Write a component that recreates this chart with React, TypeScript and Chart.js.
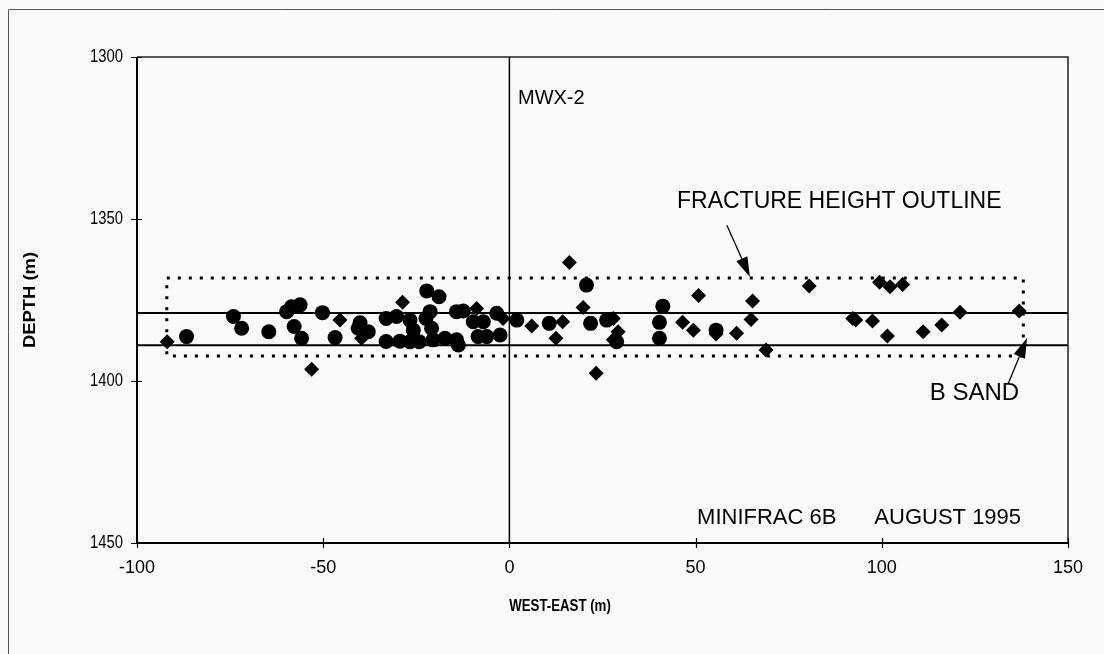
import React, { useEffect, useRef } from "react";
import { Chart, registerables } from "chart.js";

Chart.register(...registerables);

// ---- data ----
const CIRCLE_X = [-86.7, -74.1, -71.9, -64.6, -59.8, -58.5, -56.2, -57.8, -55.8, -50.2, -46.8, -40.1, -40.6, -37.9, -33.1, -30.3, -33.1, -29.4, -26.7, -25.8, -26.7, -24.2, -22.2, -18.9, -21.3, -22.4, -20.9, -20.5, -17.3, -14.2, -12.4, -9.7, -7.0, -14.2, -13.7, -8.4, -6.1, -2.5, -3.4, 2.0, 10.7, 20.7, 21.8, 26.1, 28.8, 41.2, 40.3, 40.3, 55.5];
const CIRCLE_Y = [1386.3, 1380.1, 1383.7, 1384.8, 1378.6, 1377.1, 1376.5, 1383.2, 1386.8, 1378.9, 1386.6, 1382.0, 1383.7, 1384.8, 1380.7, 1380.1, 1387.8, 1387.7, 1381.2, 1384.3, 1387.9, 1387.9, 1372.2, 1374.0, 1378.6, 1380.7, 1383.7, 1387.3, 1386.8, 1378.6, 1378.4, 1381.7, 1381.7, 1387.3, 1388.9, 1386.3, 1386.3, 1385.8, 1379.1, 1381.2, 1382.2, 1370.4, 1382.2, 1381.2, 1387.9, 1376.9, 1381.9, 1386.8, 1384.3];

const DIAMOND_X = [-91.9, -53.1, -45.5, -39.7, -28.7, -8.8, -1.7, 6.0, 14.3, 12.5, 16.1, 19.8, 23.3, 27.9, 29.2, 27.9, 46.5, 49.4, 50.8, 55.5, 61.0, 65.3, 64.9, 68.9, 80.5, 92.2, 93.0, 97.5, 99.4, 102.2, 105.6, 101.5, 111.1, 116.1, 121.0, 136.9];
const DIAMOND_Y = [1387.9, 1396.4, 1381.2, 1386.8, 1375.7, 1377.6, 1380.7, 1383.0, 1381.7, 1386.8, 1363.4, 1377.3, 1397.6, 1380.7, 1384.8, 1387.3, 1381.9, 1384.3, 1373.6, 1385.5, 1385.3, 1375.3, 1381.0, 1390.4, 1370.7, 1380.7, 1381.2, 1381.5, 1369.5, 1370.9, 1370.2, 1386.1, 1384.8, 1382.7, 1378.8, 1378.4];

// reference lines
const WELL_X = 0;
const SAND_TOP = 1379;
const SAND_BOTTOM = 1389;
const OUTLINE_X = [-92, 138];
const OUTLINE_Y = [1368.2, 1392.3];

// axes
const X_MIN = -100;
const X_MAX = 150;
const Y_MIN = 1300;
const Y_MAX = 1450;
const X_TICKS = [-100, -50, 0, 50, 100, 150];
const Y_TICKS = [1300, 1350, 1400, 1450];
const X_TITLE = "WEST-EAST (m)";
const Y_TITLE = "DEPTH (m)";

// annotations (data coordinates)
const LABEL_TEXTS = ["MWX-2", "FRACTURE HEIGHT OUTLINE", "B SAND", "MINIFRAC 6B", "AUGUST 1995"];
const LABEL_X = [2.3, 45.0, 112.9, 50.4, 98.0];
const LABEL_Y = [1312.7, 1344.5, 1403.7, 1442.3, 1442.3];
const ARROW_FROM_X = [58.4, 133.9];
const ARROW_FROM_Y = [1351.9, 1400.9];
const ARROW_TO_X = [64.6, 139.0];
const ARROW_TO_Y = [1367.9, 1386.7];

// styles
const LABEL_SIZES = [20, 23, 24, 22, 22];
const TEXT_FONT = "'Liberation Sans', Arial, sans-serif";

function drawText(ctx: CanvasRenderingContext2D, text: string, x: number, y: number, font: string, sx: number, align: CanvasTextAlign) {
  ctx.save();
  ctx.font = font;
  ctx.textAlign = align;
  ctx.textBaseline = "middle";
  ctx.translate(x, y);
  ctx.scale(sx, 1);
  ctx.fillText(text, 0, 0);
  ctx.restore();
}

const decorPlugin = {
  id: "decor",
  afterDraw(chart: any) {
    const { ctx, chartArea: a, scales } = chart;
    const xs = scales.x;
    const ys = scales.y;
    ctx.save();

    // outer frame
    ctx.strokeStyle = "#555";
    ctx.lineWidth = 1;
    ctx.beginPath();
    ctx.moveTo(8.5, 654);
    ctx.lineTo(8.5, 9.5);
    ctx.lineTo(1104, 9.5);
    ctx.stroke();

    // plot box
    ctx.strokeStyle = "#222";
    ctx.lineWidth = 1.5;
    ctx.beginPath();
    ctx.moveTo(a.left, a.top);
    ctx.lineTo(a.right, a.top);
    ctx.lineTo(a.right, a.bottom);
    ctx.stroke();

    ctx.strokeStyle = "#000";
    ctx.lineWidth = 2;
    ctx.beginPath();
    ctx.moveTo(a.left, a.top);
    ctx.lineTo(a.left, a.bottom);
    ctx.lineTo(a.right, a.bottom);
    ctx.stroke();

    // tick marks crossing the axes
    ctx.lineWidth = 1.2;
    ctx.beginPath();
    X_TICKS.forEach((v) => {
      const px = Math.round(xs.getPixelForValue(v)) + 0.5;
      ctx.moveTo(px, a.bottom - 5);
      ctx.lineTo(px, a.bottom + 5);
    });
    Y_TICKS.forEach((v) => {
      const py = Math.round(ys.getPixelForValue(v)) + 0.5;
      ctx.moveTo(a.left - 6, py);
      ctx.lineTo(a.left + 5, py);
    });
    ctx.stroke();

    // tick labels (condensed)
    ctx.fillStyle = "#000";
    X_TICKS.forEach((v) => {
      drawText(ctx, String(v), xs.getPixelForValue(v), a.bottom + 25, `19px ${TEXT_FONT}`, 0.95, "center");
    });
    Y_TICKS.forEach((v) => {
      drawText(ctx, String(v), a.left - 14, ys.getPixelForValue(v), `19px ${TEXT_FONT}`, 0.78, "right");
    });

    // annotation texts
    LABEL_TEXTS.forEach((t, i) => {
      drawText(ctx, t, xs.getPixelForValue(LABEL_X[i]), ys.getPixelForValue(LABEL_Y[i]), `${LABEL_SIZES[i]}px ${TEXT_FONT}`, 1, "left");
    });

    // arrows
    ARROW_FROM_X.forEach((_, i) => {
      const x1 = xs.getPixelForValue(ARROW_FROM_X[i]);
      const y1 = ys.getPixelForValue(ARROW_FROM_Y[i]);
      const x2 = xs.getPixelForValue(ARROW_TO_X[i]);
      const y2 = ys.getPixelForValue(ARROW_TO_Y[i]);
      const ang = Math.atan2(y2 - y1, x2 - x1);
      const hl = 20;
      const hw = 6;
      const bx = x2 - hl * Math.cos(ang);
      const by = y2 - hl * Math.sin(ang);
      ctx.strokeStyle = "#000";
      ctx.lineWidth = 1.3;
      ctx.beginPath();
      ctx.moveTo(x1, y1);
      ctx.lineTo(bx, by);
      ctx.stroke();
      ctx.beginPath();
      ctx.moveTo(x2, y2);
      ctx.lineTo(bx + hw * Math.sin(ang), by - hw * Math.cos(ang));
      ctx.lineTo(bx - hw * Math.sin(ang), by + hw * Math.cos(ang));
      ctx.closePath();
      ctx.fill();
    });

    // axis titles
    drawText(ctx, X_TITLE, 560, 606, `bold 17px ${TEXT_FONT}`, 0.78, "center");
    ctx.save();
    ctx.translate(31, 300);
    ctx.rotate(-Math.PI / 2);
    drawText(ctx, Y_TITLE, 0, 0, `bold 16px ${TEXT_FONT}`, 1.15, "center");
    ctx.restore();

    ctx.restore();
  },
};

export default function App() {
  const ref = useRef<HTMLCanvasElement>(null);

  useEffect(() => {
    if (!ref.current) return;
    const line = (pts: { x: number; y: number }[], width: number, dash: number[] = []) => ({
      type: "line" as const,
      data: pts,
      showLine: true,
      borderColor: "#000",
      borderWidth: width,
      borderDash: dash,
      pointRadius: 0,
      fill: false,
      tension: 0,
    });
    const chart = new Chart(ref.current, {
      type: "scatter",
      data: {
        datasets: [
          line([{ x: WELL_X, y: Y_MIN }, { x: WELL_X, y: Y_MAX }], 1.5),
          line([{ x: X_MIN, y: SAND_TOP }, { x: X_MAX, y: SAND_TOP }], 2),
          line([{ x: X_MIN, y: SAND_BOTTOM }, { x: X_MAX, y: SAND_BOTTOM }], 2),
          line(
            [
              { x: OUTLINE_X[0], y: OUTLINE_Y[0] },
              { x: OUTLINE_X[1], y: OUTLINE_Y[0] },
              { x: OUTLINE_X[1], y: OUTLINE_Y[1] },
              { x: OUTLINE_X[0], y: OUTLINE_Y[1] },
              { x: OUTLINE_X[0], y: OUTLINE_Y[0] },
            ],
            3,
            [3, 8]
          ),
          {
            data: CIRCLE_X.map((x, i) => ({ x, y: CIRCLE_Y[i] })),
            pointStyle: "circle",
            pointRadius: 7.5,
            backgroundColor: "#000",
            borderColor: "#000",
            borderWidth: 0,
          },
          {
            data: DIAMOND_X.map((x, i) => ({ x, y: DIAMOND_Y[i] })),
            pointStyle: "rectRot",
            pointRadius: 7.5,
            backgroundColor: "#000",
            borderColor: "#000",
            borderWidth: 0,
          },
        ] as any,
      },
      options: {
        animation: false,
        responsive: false,
        maintainAspectRatio: false,
        layout: { padding: { left: 0, top: 57, right: 36, bottom: 0 } },
        plugins: { legend: { display: false }, tooltip: { enabled: false } },
        scales: {
          x: {
            type: "linear",
            min: X_MIN,
            max: X_MAX,
            grid: { display: false },
            border: { display: false },
            ticks: { display: false },
            afterFit: (s: any) => {
              s.height = 111;
            },
            afterBuildTicks: (s: any) => {
              s.ticks = X_TICKS.map((v) => ({ value: v }));
            },
          },
          y: {
            type: "linear",
            reverse: true,
            min: Y_MIN,
            max: Y_MAX,
            grid: { display: false },
            border: { display: false },
            ticks: { display: false },
            afterFit: (s: any) => {
              s.width = 137;
            },
            afterBuildTicks: (s: any) => {
              s.ticks = Y_TICKS.map((v) => ({ value: v }));
            },
          },
        },
      } as any,
      plugins: [decorPlugin],
    });
    return () => chart.destroy();
  }, []);

  return (
    <div style={{ position: "fixed", left: 0, top: 0, width: 1104, height: 654, background: "#fafafa" }}>
      <canvas ref={ref} width={1104} height={654} style={{ display: "block", width: 1104, height: 654 }} />
    </div>
  );
}
